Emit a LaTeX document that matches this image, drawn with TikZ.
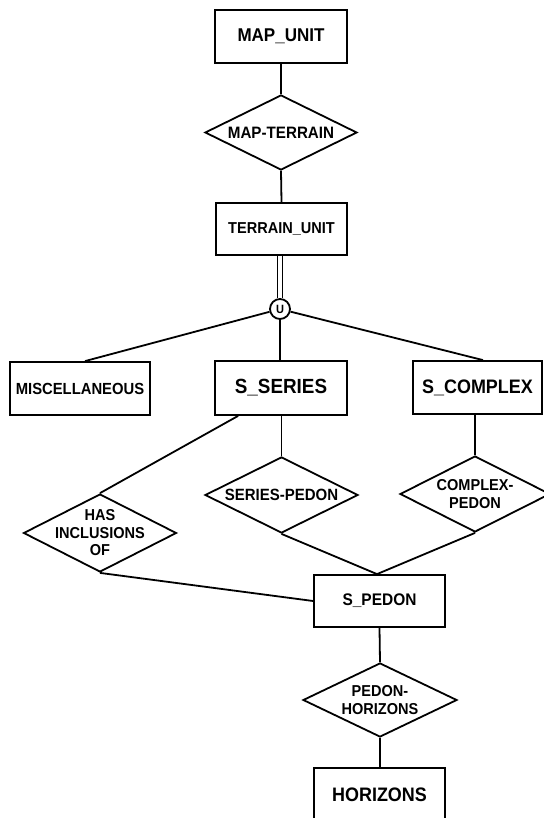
\documentclass[tikz,border=0pt]{standalone}
\usepackage{fontspec}
\setmainfont[FakeStretch=0.92]{Liberation Sans}
\usetikzlibrary{shapes.geometric,calc}
\begin{document}
\begin{tikzpicture}[x=1pt,y=-1pt, line width=1.8pt,
  ent/.style={draw, rectangle, inner sep=0pt, minimum width=132pt, minimum height=53pt, font=\bfseries\fontsize{16.3}{19.5}\selectfont},
  rel/.style={draw, diamond, inner sep=0pt, minimum width=153pt, minimum height=76pt},
  rtext/.style={font=\bfseries\fontsize{15.8}{17.5}\selectfont, align=center, inner sep=0pt},
  conn/.style={draw, line width=1.8pt}]
\useasboundingbox (0,0) rectangle (543,818);
% entities
\node[ent, font=\bfseries\fontsize{18.5}{22}\selectfont] (mapunit) at (281,36.5) {MAP\_UNIT};
\node[ent, minimum width=131pt, minimum height=52pt, font=\bfseries\fontsize{15.8}{18}\selectfont] (terrain) at (281.5,229) {TERRAIN\_UNIT};
\node[draw, circle, minimum size=20pt, inner sep=0pt, font=\bfseries\fontsize{12}{13}\selectfont] (U) at (280,309) {U};
\node[ent, minimum width=140pt, font=\bfseries\fontsize{16.1}{18}\selectfont] (misc) at (80,388.5) {MISCELLANEOUS};
\node[ent, minimum height=54pt, font=\bfseries\fontsize{20.5}{24}\selectfont] (sseries) at (281,388) {S\_SERIES};
\node[ent, minimum width=129pt, font=\bfseries\fontsize{19.5}{23}\selectfont] (scomplex) at (477.5,387.5) {S\_COMPLEX};
\node[ent, minimum width=131pt, minimum height=52pt, font=\bfseries\fontsize{16.8}{19}\selectfont] (spedon) at (379.5,601) {S\_PEDON};
\node[ent, minimum width=131pt, minimum height=54pt, font=\bfseries\fontsize{19.5}{23}\selectfont] (horizons) at (379.5,795) {HORIZONS};
% relationships
\node[rel, minimum width=152pt, minimum height=75pt, label={[rtext, font=\bfseries\fontsize{16.5}{19}\selectfont]center:MAP-TERRAIN}] (mapterrain) at (281,132.5) {};
\node[rel, minimum height=78pt, label={[rtext]center:HAS\\INCLUSIONS\\OF}] (hasincl) at (100,533) {};
\node[rel, label={[rtext, font=\bfseries\fontsize{16.3}{19}\selectfont]center:SERIES-PEDON}] (seriespedon) at (281.5,495) {};
\node[rel, minimum width=150pt, label={[rtext]center:COMPLEX-\\PEDON}] (complexpedon) at (475,494) {};
\node[rel, minimum width=154pt, minimum height=74pt, label={[rtext]center:PEDON-\\HORIZONS}] (pedonhor) at (380,700) {};
% connectors
\draw[conn] (mapunit.south) -- (mapterrain.north);
\draw[conn] (mapterrain.south) -- (terrain.north);
\draw[line width=1.5pt, double, double distance=3.5pt] (terrain.south -| U.north) -- (U.north);
\draw[conn] (U) -- ([xshift=5pt]misc.north);
\draw[conn] (U.south) -- (sseries.north -| U.south);
\draw[conn] (U) -- ([xshift=5.5pt]scomplex.north);
\draw[conn] ([xshift=24pt]sseries.south west) -- (hasincl.north);
\draw[conn] (sseries.south -| seriespedon.north) -- (seriespedon.north);
\draw[conn] (scomplex.south -| complexpedon.north) -- (complexpedon.north);
\draw[conn] (seriespedon.south) -- ([xshift=-2.5pt]spedon.north);
\draw[conn] (complexpedon.south) -- ([xshift=-2.5pt]spedon.north);
\draw[conn] (hasincl.south) -- (spedon.west);
\draw[conn] (spedon.south) -- (pedonhor.north);
\draw[conn] (pedonhor.south) -- (horizons.north -| pedonhor.south);
\end{tikzpicture}
\end{document}
